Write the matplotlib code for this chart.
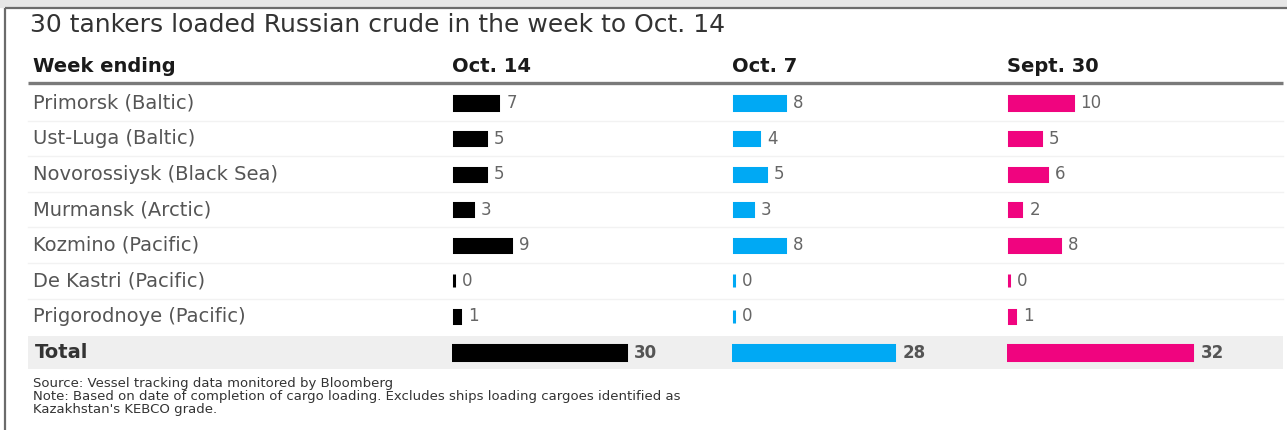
import matplotlib.pyplot as plt

plt.rcParams['font.family'] = ['DejaVu Sans']

# ---- data ----
ports = ['Primorsk (Baltic)', 'Ust-Luga (Baltic)', 'Novorossiysk (Black Sea)',
         'Murmansk (Arctic)', 'Kozmino (Pacific)', 'De Kastri (Pacific)',
         'Prigorodnoye (Pacific)']
weeks = ['Oct. 14', 'Oct. 7', 'Sept. 30']
oct14 = [7, 5, 5, 3, 9, 0, 1]
oct7 = [8, 4, 5, 3, 8, 0, 0]
sept30 = [10, 5, 6, 2, 8, 0, 1]
totals = [30, 28, 32]

title = '30 tankers loaded Russian crude in the week to Oct. 14'
source = 'Source: Vessel tracking data monitored by Bloomberg'
note = ['Note: Based on date of completion of cargo loading. Excludes ships loading cargoes identified as',
        "Kazakhstan's KEBCO grade."]

colors = ['#000000', '#00A9F4', '#F0047F']

# ---- layout (pixels) ----
W, H = 1287, 430
col_x = [452, 732, 1007]
row_top, row_h = 85.2, 35.57
unit_px = 6.4          # pixels per tanker in the port rows
total_unit_px = 5.75   # pixels per tanker in the total row
edge = 2.2             # bar outline (pt), keeps zero bars visible as a thin stroke

fig = plt.figure(figsize=(W / 100, H / 100), dpi=100)
bg = fig.add_axes([0, 0, 1, 1])
bg.set_xlim(0, W)
bg.set_ylim(H, 0)
bg.axis('off')

# frame and top strip
bg.axhspan(0, 7, color='#e6e6e6', zorder=0)
bg.plot([4.5, W], [7.5, 7.5], color='#6b6b6b', lw=1.6, solid_capstyle='butt')
bg.plot([4.5, 4.5], [7.5, H], color='#6b6b6b', lw=1.6, solid_capstyle='butt')

bg.text(30, 25, title, fontsize=18, color='#333333', va='center', ha='left')

# column headers
bg.text(33, 66, 'Week ending', fontsize=14, fontweight='bold', color='#1a1a1a', va='center')
for x, wk in zip(col_x, weeks):
    bg.text(x, 66, wk, fontsize=14, fontweight='bold', color='#1a1a1a', va='center')
bg.plot([28, 1283], [83, 83], color='#7a7a7a', lw=2.4, solid_capstyle='butt')

# row labels and faint separators
for i, p in enumerate(ports):
    yc = row_top + row_h * (i + 0.5)
    bg.text(33, yc, p, fontsize=14, color='#555555', va='center')
    if i > 0:
        yl = row_top + row_h * i
        bg.plot([28, 1283], [yl, yl], color='#f2f2f2', lw=1, zorder=0)

# total row band
bg.add_patch(plt.Rectangle((28, 336), 1255, 33, color='#efefef', zorder=0, lw=0))
bg.text(35, 352, 'Total', fontsize=14, fontweight='bold', color='#333333', va='center')

# footer
bg.text(33, 384, source, fontsize=9.5, color='#333333', va='center')
bg.text(33, 396.5, note[0], fontsize=9.5, color='#333333', va='center')
bg.text(33, 409, note[1], fontsize=9.5, color='#333333', va='center')

# ---- bar columns ----
series = [oct14, oct7, sept30]
col_w = 260
for x, vals, tot, c in zip(col_x, series, totals, colors):
    ax = fig.add_axes([x / W, 1 - (row_top + row_h * 7) / H, col_w / W, row_h * 7 / H])
    ax.barh(range(len(vals)), vals, height=0.37, color=c, edgecolor=c, linewidth=edge)
    ax.set_xlim(-0.25, col_w / unit_px - 0.25)
    ax.set_ylim(len(vals) - 0.5, -0.5)
    ax.axis('off')
    for i, v in enumerate(vals):
        ax.annotate(str(v), xy=(v, i), xytext=(8, 0), textcoords='offset pixels',
                    fontsize=12, color='#666666', va='center', ha='left')

    axt = fig.add_axes([x / W, 1 - 370.5 / H, col_w / W, 36 / H])
    axt.barh([0], [tot], height=0.39, color=c, edgecolor=c, linewidth=edge)
    axt.set_xlim(-0.25, col_w / total_unit_px - 0.25)
    axt.set_ylim(0.5, -0.5)
    axt.axis('off')
    axt.annotate(str(tot), xy=(tot, 0), xytext=(8, 0), textcoords='offset pixels',
                 fontsize=12, fontweight='bold', color='#555555', va='center', ha='left')

fig.savefig('out.png', dpi=100)
